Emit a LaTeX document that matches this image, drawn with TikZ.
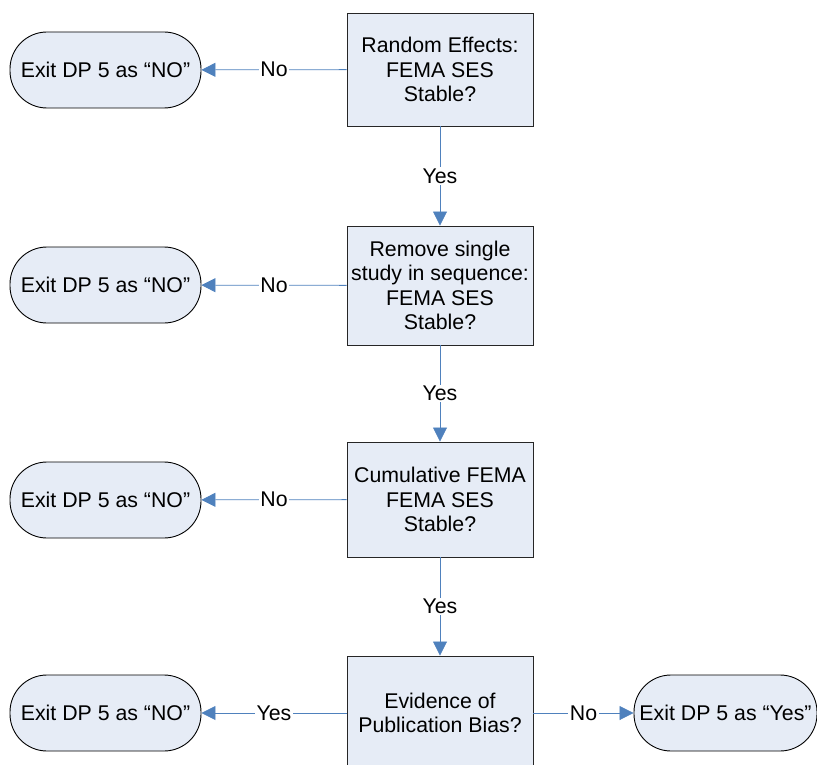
\documentclass[tikz,border=0pt]{standalone}
\usepackage{fontspec}
\setmainfont{Liberation Sans}
\usetikzlibrary{arrows.meta}
\definecolor{boxfill}{RGB}{230,236,246}
\definecolor{linkblue}{RGB}{79,129,189}
\begin{document}
\begin{tikzpicture}[x=1pt,y=-1pt,
  every node/.style={font=\fontsize{21.3}{24.5}\selectfont},
  decbox/.style={draw=black!85, fill=boxfill, line width=0.9pt, minimum width=186pt, align=center, inner sep=2pt},
  exitnode/.style={draw=black, fill=boxfill, line width=0.9pt, minimum width=191pt, minimum height=76pt, rounded corners=37pt, inner sep=2pt},
  link/.style={draw=linkblue, line width=0.8pt, -{Triangle[length=14pt,width=14pt]}},
  lbl/.style={fill=white, inner sep=1.5pt}]
\useasboundingbox (0,0) rectangle (817,765);
\node[decbox, minimum height=113pt] (b1) at (440,69.5) {Random Effects:\\FEMA SES\\Stable?};
\node[decbox, minimum height=119pt] (b2) at (440,285.5) {Remove single\\study in sequence:\\FEMA SES\\Stable?};
\node[decbox, minimum height=115pt] (b3) at (440,499.5) {Cumulative FEMA\\FEMA SES\\Stable?};
\node[decbox, minimum height=114pt] (b4) at (440,713) {Evidence of\\Publication Bias?};
\node[exitnode] (e1) at (105.5,70) {Exit DP 5 as “NO”};
\node[exitnode] (e2) at (105.5,285) {Exit DP 5 as “NO”};
\node[exitnode] (e3) at (105.5,500) {Exit DP 5 as “NO”};
\node[exitnode] (e4) at (105.5,713) {Exit DP 5 as “NO”};
\node[exitnode, minimum width=183pt] (e5) at (725.5,713) {Exit DP 5 as “Yes”};
\draw[link] (b1) -- node[lbl] {No} (e1);
\draw[link] (b2) -- node[lbl] {No} (e2);
\draw[link] (b3) -- node[lbl] {No} (e3);
\draw[link] (b4) -- node[lbl] {Yes} (e4);
\draw[link] (b4) -- node[lbl] {No} (e5);
\draw[link] (b1) -- node[lbl] {Yes} (b2);
\draw[link] (b2) -- node[lbl] {Yes} (b3);
\draw[link] (b3) -- node[lbl] {Yes} (b4);
\end{tikzpicture}
\end{document}
